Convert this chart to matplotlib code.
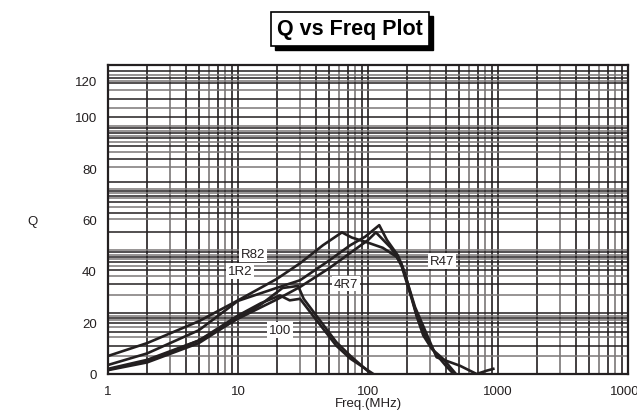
import matplotlib
matplotlib.use("Agg")
import matplotlib.pyplot as plt
from matplotlib.patches import Rectangle

plt.rcParams['font.family'] = ['Liberation Sans', 'DejaVu Sans']

# ---- data ----
f_r82 = [1, 2, 5, 10, 20, 30, 45, 63, 75, 100, 130, 166, 181, 198, 217, 236, 266, 310, 380, 466]
q_r82 = [7.0, 12, 20.5, 28.6, 37, 43, 50, 55, 53, 51, 49, 45.5, 42, 35.7, 29.2, 22.7, 15, 9.7, 5.8, 0.5]

f_1r2 = [1, 2, 5, 10, 20, 30, 50, 73, 95, 122, 140, 170, 190, 210, 240, 280, 330, 400, 450]
q_1r2 = [3.5, 8, 17, 28.4, 33.5, 36.4, 44, 50, 53.3, 57.8, 52, 46, 40, 32, 22, 14, 8, 3, 0.3]

f_r47 = [1, 2, 5, 10, 20, 30, 50, 73, 100, 115, 150, 180, 200, 230, 280, 337, 510, 685, 820, 920]
q_r47 = [1.7, 5, 13, 21.5, 29, 33.8, 41, 47, 52, 55, 49, 43, 36, 26, 16, 6.5, 3.2, 0, 1.3, 2]

f_4r7 = [1, 2, 5, 10, 15, 22, 29, 32, 40, 57, 73, 103]
q_4r7 = [1.5, 4.5, 12, 21.7, 27, 33.4, 34.2, 29.2, 22.7, 12.4, 7.1, 0.5]

f_100 = [1, 2, 5, 10, 15, 21, 25, 30, 40, 57, 73, 110]
q_100 = [2.0, 5.5, 13, 22.7, 27.5, 30.5, 28.6, 29.2, 21, 11, 6, 0]

series = [(f_r82, q_r82), (f_1r2, q_1r2), (f_r47, q_r47), (f_4r7, q_4r7), (f_100, q_100)]

labels = ["R82", "1R2", "100", "4R7", "R47"]
label_f = [13.0, 10.4, 21.0, 67.7, 371]
label_q = [46.6, 40.0, 17.1, 35.0, 43.9]

ytick_vals = [0, 20, 40, 60, 80, 100, 114]
ytick_labels = ["0", "20", "40", "60", "80", "100", "120"]
xtick_vals = [1, 10, 100, 1000, 10000]
xtick_labels = ["1", "10", "100", "1000", "10000"]

hgrid = [117.6, 116.1, 114.8, 113.8, 112.9, 110.3, 106.8, 103.3, 99.7, 96.4, 95.4,
         94.5, 93.6, 92.5, 91.5, 90.2, 88.4, 86.1, 83.5, 80.3, 74.4, 71.8, 71.0,
         70.2, 69.2, 68.2, 66.9, 64.7, 62.5, 60.2, 55.3, 48.2, 47.3, 46.3, 45.6,
         44.7, 43.6, 42.1, 40.4, 38.2, 35.0, 30.7, 23.7, 22.6, 21.7, 21.0, 19.7,
         18.4, 16.3, 14.2, 11.0, 6.9]

# ---- figure ----
fig = plt.figure(figsize=(6.37, 4.14), dpi=100)
ax = fig.add_axes([108/637, 1-375/414, (628-108)/637, (375-66)/414])
ax.set_xscale('log')
ax.set_xlim(1, 10000)
ax.set_ylim(0, 120)

dark = '#231f20'
gray = '#7a7777'

# vertical grid
for dec in [1, 10, 100, 1000]:
    for m in range(1, 10):
        v = dec * m
        if v <= 1:
            continue
        col = dark if m in (1, 2, 4, 5, 7, 9) else gray
        ax.axvline(v, color=col, lw=1.2, zorder=1)
# horizontal grid
for i, h in enumerate(hgrid):
    col = dark if i % 2 == 0 else gray
    ax.axhline(h, color=col, lw=1.1, zorder=1)

for fx, qy in series:
    ax.plot(fx, qy, color=dark, lw=1.9, zorder=3)

for t, fx, qy in zip(labels, label_f, label_q):
    ax.text(fx, qy, t, fontsize=9.5, color=dark, ha='center', va='center', zorder=4,
            bbox=dict(boxstyle='square,pad=0.12', fc='white', ec='none'))

ax.set_xticks(xtick_vals)
ax.set_xticklabels(xtick_labels)
ax.set_xticks([], minor=True)
ax.set_yticks(ytick_vals)
ax.set_yticklabels(ytick_labels)
ax.tick_params(axis='both', length=0, labelsize=9.5, colors=dark)
ax.tick_params(axis='x', pad=8)
ax.tick_params(axis='y', pad=8)
for s in ax.spines.values():
    s.set_color(dark)
    s.set_linewidth(1.6)

ax.set_xlabel("Freq.(MHz)", fontsize=9.5, color=dark, labelpad=0)
fig.text(33/637, 1-222/414, "Q", fontsize=9.5, color=dark, ha='center', va='center')

# title with shadow box
tx, ty = 350/637, 1-30/414
title = fig.text(tx, ty, "Q vs Freq Plot", fontsize=15.5, fontweight='bold',
                 color='black', ha='center', va='center', zorder=5,
                 bbox=dict(boxstyle='square,pad=0.3', fc='white', ec='black', lw=1.2))
fig.canvas.draw()
bb = title.get_bbox_patch().get_window_extent()
shadow = Rectangle((bb.x0 + 4, bb.y0 - 4), bb.width, bb.height, transform=None,
                   fc='black', ec='black', zorder=4)
fig.add_artist(shadow)

fig.savefig("out.png", dpi=100)
